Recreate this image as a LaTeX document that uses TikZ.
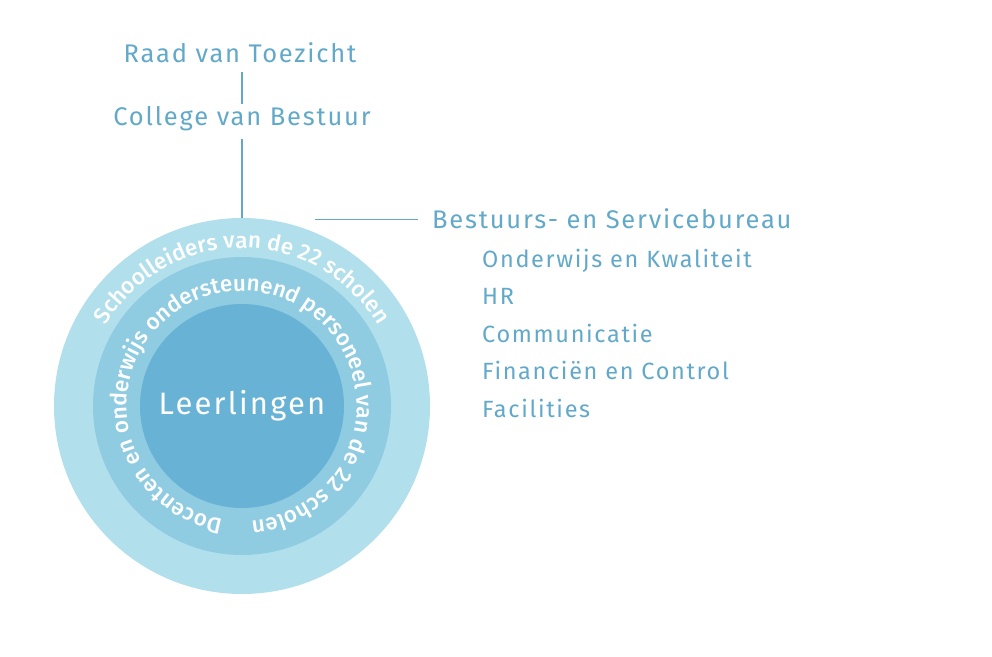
\documentclass[tikz,border=0pt]{standalone}
\usepackage{fontspec}
\setmainfont[LetterSpace=7]{Fira Sans}
\newfontfamily\ringface{Fira Sans Medium}
\usetikzlibrary{decorations.text}
\definecolor{orgtext}{HTML}{62A9C9}
\definecolor{ringout}{HTML}{B2DFEC}
\definecolor{ringmid}{HTML}{8FCCE2}
\definecolor{ringin}{HTML}{67B2D5}
\newcommand\ringfont{\ringface\fontsize{22.5}{26}\selectfont}
\begin{document}
\begin{tikzpicture}[x=1pt,y=1pt,
  lbl/.style={text=orgtext,inner sep=0pt,font=\fontsize{25.5}{30}\selectfont,text height=18pt,text depth=0pt},
  sub/.style={lbl,anchor=west,font=\fontsize{23.5}{28}\selectfont,text height=16pt},
  conn/.style={draw=orgtext,line width=1.2pt},
  ring/.style={circle,inner sep=0pt,draw=none}]
\useasboundingbox (0,0) rectangle (992,656);
% the three rings
\node[ring,fill=ringout,minimum size=376pt] (outer) at (242,250) {};
\node[ring,fill=ringmid,minimum size=298pt] (mid) at (242,250) {};
\node[ring,fill=ringin,minimum size=204pt] (inner) at (242,250) {};
\node[text=white,font=\fontsize{31}{40}\selectfont] (pupils) at (inner) {Leerlingen};
\path[decorate,decoration={text along path,text align=center,text color=white,
  text={|\ringfont|Schoolleiders van de 22 scholen}}]
  (outer.center) ++(175:158) arc[start angle=175,end angle=5,radius=158];
\path[decorate,decoration={text along path,text align=center,text color=white,
  text={|\ringfont|Docenten en onderwijs ondersteunend personeel van de 22 scholen}}]
  (mid.center) ++(268:115) arc[start angle=268,end angle=-93,radius=115];
% governance
\node[lbl] (raad) at (240,602) {Raad van Toezicht};
\node[lbl] (college) at (242,539) {College van Bestuur};
\node[lbl,anchor=west] (bureau) at (432,436.5) {Bestuurs- en Servicebureau};
\foreach \t [count=\i] in {Onderwijs en Kwaliteit,HR,Communicatie,Financiën en Control,Facilities}
  \node[sub] (dept\i) at (482,434-37.5*\i) {\t};
\coordinate (hook) at (315,436.5);
\draw[conn,shorten <=9pt,shorten >=4pt] (college.north |- raad.south) -- (college.north);
\draw[conn,shorten <=13pt] (college.south) -- (outer.north);
\draw[conn,shorten <=14pt] (bureau.west) -- (hook);
\end{tikzpicture}
\end{document}
